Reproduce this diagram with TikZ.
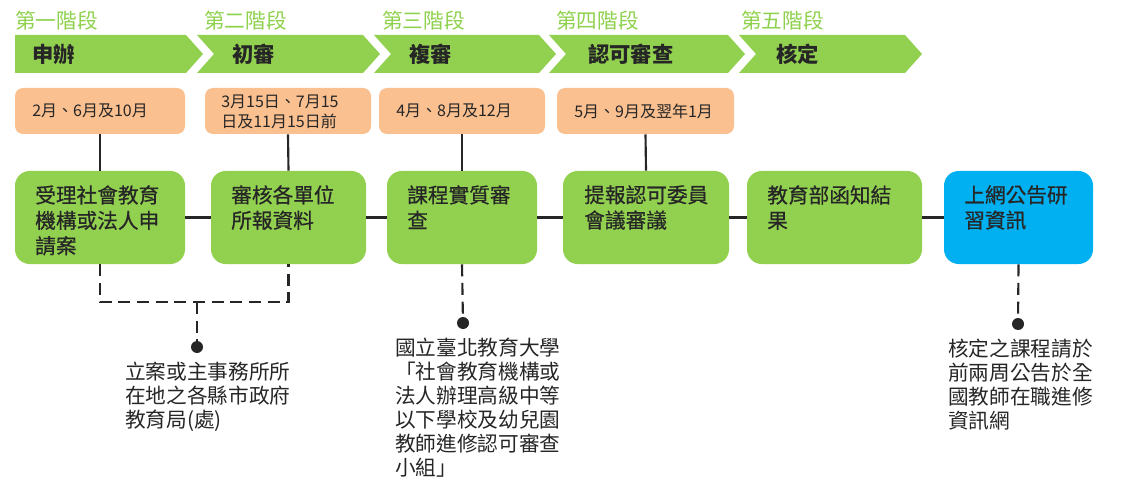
\documentclass[tikz,border=0pt]{standalone}
\usepackage{fontspec}
\setmainfont{Noto Sans CJK TC}
\usetikzlibrary{fit}
\definecolor{lg}{HTML}{92D050}
\definecolor{lgt}{HTML}{8ED14C}
\definecolor{og}{HTML}{FAC090}
\definecolor{bl}{HTML}{00B0F0}
\definecolor{ink}{HTML}{262626}
\begin{document}
\begin{tikzpicture}[x=0.75pt,y=-0.75pt,
  stagelbl/.style={text=lgt, font=\fontsize{15.5}{18}\selectfont, anchor=west, inner sep=0pt},
  chevtxt/.style={text=ink, font=\bfseries\fontsize{16}{19}\selectfont, anchor=west, inner sep=0pt},
  chev/.style={fill=lg},
  obox/.style={fill=og, rounded corners=6pt, inner sep=0pt},
  otxt/.style={text=ink, font=\fontsize{12}{15}\selectfont, anchor=west, inner sep=0pt, align=left},
  gbox/.style={fill=lg, rounded corners=11pt, inner sep=0pt},
  bbox/.style={fill=bl, rounded corners=11pt, inner sep=0pt},
  gtxt/.style={text=ink, font=\addfontfeature{FakeBold=0.6}\fontsize{15.5}{19}\selectfont, anchor=north west, inner sep=0pt, align=left},
  ann/.style={text=ink, font=\fontsize{15.5}{18}\selectfont, anchor=north west, inner sep=0pt, align=left},
  link/.style={draw=ink, line width=1.6pt},
  dlink/.style={draw=ink, line width=1.6pt, dash pattern=on 9pt off 5pt},
  dot/.style={circle, fill=ink, minimum size=9pt, inner sep=0pt}]
\useasboundingbox (0,0) rectangle (1123,495);

% stage labels
\node[stagelbl] (s1) at (15,21) {第一階段};
\node[stagelbl] (s2) at (204,21) {第二階段};
\node[stagelbl] (s3) at (382,21) {第三階段};
\node[stagelbl] (s4) at (556,21) {第四階段};
\node[stagelbl] (s5) at (741,21) {第五階段};

% chevrons
\fill[chev] (15,35) -- (186,35) -- (203,54) -- (186,73) -- (15,73) -- cycle;
\fill[chev] (197,35) -- (363,35) -- (380,54) -- (363,73) -- (197,73) -- (214,54) -- cycle;
\fill[chev] (374,35) -- (539,35) -- (556,54) -- (539,73) -- (374,73) -- (391,54) -- cycle;
\fill[chev] (549,35) -- (728,35) -- (745,54) -- (728,73) -- (549,73) -- (566,54) -- cycle;
\fill[chev] (739,35) -- (905,35) -- (922,54) -- (905,73) -- (739,73) -- (756,54) -- cycle;
\node[chevtxt] (c1) at (32,54) {申辦};
\node[chevtxt] (c2) at (232,54) {初審};
\node[chevtxt] (c3) at (409,54) {複審};
\node[chevtxt] (c4) at (588,54) {認可審查};
\node[chevtxt] (c5) at (776,54) {核定};

% orange boxes
\node[obox, fit={(15,88)(185,134)}] (o1) {};
\node[obox, fit={(205,88)(371,134)}] (o2) {};
\node[obox, fit={(379,88)(545,134)}] (o3) {};
\node[obox, fit={(557,88)(734,134)}] (o4) {};
\node[otxt] (ot1) at (32,111) {2月、6月及10月};
\node[otxt] (ot2) at (221,112) {3月15日、7月15\\日及11月15日前};
\node[otxt] (ot3) at (396,111) {4月、8月及12月};
\node[otxt] (ot4) at (574,111) {5月、9月及翌年1月};

% green / blue boxes
\node[gbox, fit={(15,171)(185,264)}] (g1) {};
\node[gbox, fit={(211,171)(366,264)}] (g2) {};
\node[gbox, fit={(387,171)(537,264)}] (g3) {};
\node[gbox, fit={(563,171)(729,264)}] (g4) {};
\node[gbox, fit={(747,171)(922,264)}] (g5) {};
\node[bbox, fit={(944,171)(1093,264)}] (b6) {};
\node[gtxt] (gt1) at (35,185) {受理社會教育\\機構或法人申\\請案};
\node[gtxt] (gt2) at (231,185) {審核各單位\\所報資料};
\node[gtxt] (gt3) at (407,185) {課程實質審\\查};
\node[gtxt] (gt4) at (584,185) {提報認可委員\\會議審議};
\node[gtxt] (gt5) at (767,185) {教育部函知結\\果};
\node[gtxt] (gt6) at (964,185) {上網公告研\\習資訊};

% solid connectors
\draw[link] (o1.south) -- (g1.north);
\draw[link] (o2.south) -- (g2.north);
\draw[link] (o3.south) -- (g3.north);
\draw[link] (o4.south) -- (g4.north);
\draw[link] (g1.east) -- (g2.west);
\draw[link] (g2.east) -- (g3.west);
\draw[link] (g3.east) -- (g4.west);
\draw[link] (g4.east) -- (g5.west);
\draw[link] (g5.east) -- (b6.west);

% dashed connectors and dots
\coordinate (j1) at (197,302);
\node[dot] (d1) at (197,347) {};
\node[dot] (d2) at (463,323) {};
\node[dot] (d3) at (1018,324) {};
\draw[dlink] (g1.south) |- (j1) -| (g2.south);
\draw[dlink] (j1) -- (d1.center);
\draw[dlink] (g3.south) -- (d2.center);
\draw[dlink] (b6.south) -- (d3.center);

% annotations
\node[ann] (a1) at (125,362) {立案或主事務所所\\在地之各縣市政府\\教育局(處)};
\node[ann] (a2) at (395,338) {國立臺北教育大學\\「社會教育機構或\\法人辦理高級中等\\以下學校及幼兒園\\教師進修認可審查\\小組」};
\node[ann] (a3) at (948,339) {核定之課程請於\\前兩周公告於全\\國教師在職進修\\資訊網};
\end{tikzpicture}
\end{document}
